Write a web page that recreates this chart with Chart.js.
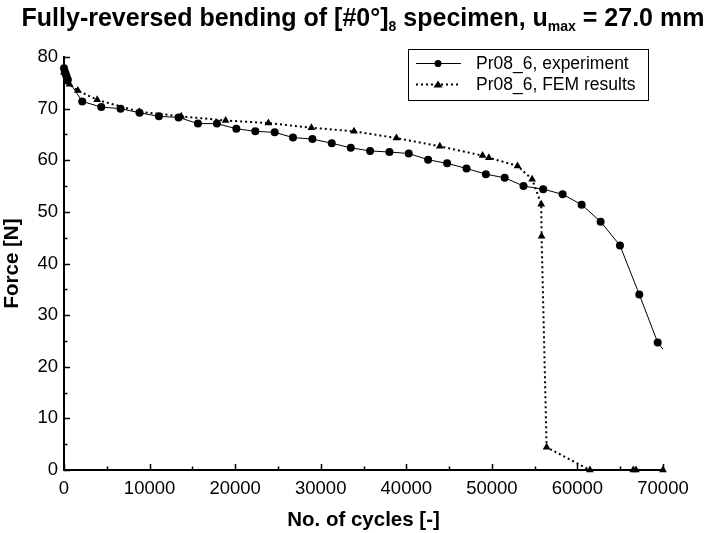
<!DOCTYPE html>
<html>
<head>
<meta charset="utf-8">
<script src="https://cdn.jsdelivr.net/npm/chart.js@4.4.1/dist/chart.umd.min.js"></script>
<style>
  body { margin: 0; background: #fff; }
  #wrap { position: relative; width: 706px; height: 533px; }
  #title {
    position: absolute; left: 0; top: 3px; width: 706px; padding-left: 20px; box-sizing: border-box;
    text-align: center; white-space: nowrap; line-height: 30px;
    font: bold 25px "Liberation Sans", Arial, sans-serif; color: #000;
  }
  #title sub { font-size: 14px; line-height: 0; vertical-align: -5px; }
</style>
</head>
<body>
<div id="wrap">
  <canvas id="fatigue" width="706" height="533"></canvas>
  <div id="title">Fully-reversed bending of [#0°]<sub>8</sub> specimen, u<sub>max</sub> = 27.0 mm</div>
</div>
<script>
// Pr08_6 specimen, measured vs. FEM
const expCycles = [0, 100, 200, 300, 450, 2130, 4350, 6610, 8830, 11090, 13390, 15650, 17870,
  20140, 22360, 24620, 26760, 29030, 31290, 33510, 35770, 38030, 40290, 42550, 44770, 47040,
  49300, 51500, 53700, 56000, 58270, 60490, 62710, 64970, 67230, 69380, 70000];
const expForce = [77.8, 77.2, 76.7, 76.2, 75.6, 71.4, 70.3, 70.0, 69.2, 68.5, 68.3, 67.1, 67.1,
  66.1, 65.6, 65.4, 64.4, 64.1, 63.3, 62.4, 61.8, 61.6, 61.3, 60.1, 59.4, 58.4,
  57.3, 56.6, 55.0, 54.4, 53.4, 51.4, 48.1, 43.5, 34.0, 24.7, 23.4];

const femCycles = [0, 300, 640, 1620, 3880, 8800, 13700, 18890, 23880, 28910, 33890, 38850,
  43920, 48910, 49650, 53000, 54710, 55770, 55810, 56400, 61460, 66530, 66840, 70000];
const femForce = [77.0, 75.8, 74.7, 73.5, 71.7, 69.4, 68.5, 67.7, 67.2, 66.3, 65.6, 64.3,
  62.7, 60.9, 60.5, 58.9, 56.3, 51.5, 45.3, 4.4, 0, 0, 0, 0];

const seriesLabels = ['Pr08_6, experiment', 'Pr08_6, FEM results'];

const toPoints = (xs, ys) => xs.map((x, i) => ({ x: x, y: ys[i] }));

// last experiment point is only where the line leaves the plot, no marker
const expRadius = expCycles.map((c, i) => i === expCycles.length - 1 ? 0 : 4);

const FONT = '"Liberation Sans", Arial, sans-serif';

// ticks pointing into the plot, with minor ticks between
const innerTicks = {
  id: 'innerTicks',
  afterDraw(chart) {
    const { ctx, chartArea, scales } = chart;
    ctx.save();
    ctx.strokeStyle = '#000';
    ctx.lineWidth = 1.5;
    ctx.beginPath();
    for (let v = 0; v <= 70000; v += 5000) {
      const px = Math.round(scales.x.getPixelForValue(v)) + 0.5;
      const len = v % 10000 === 0 ? 6 : 3.5;
      ctx.moveTo(px, chartArea.bottom);
      ctx.lineTo(px, chartArea.bottom - len);
    }
    for (let v = 0; v <= 80; v += 5) {
      const py = Math.round(scales.y.getPixelForValue(v)) + 0.5;
      const len = v % 10 === 0 ? 6 : 3.5;
      ctx.moveTo(chartArea.left, py);
      ctx.lineTo(chartArea.left + len, py);
    }
    ctx.stroke();
    ctx.restore();
  }
};

// boxed legend with a line sample and marker for each series
const boxLegend = {
  id: 'boxLegend',
  afterDraw(chart) {
    const ctx = chart.ctx;
    const x0 = 408.5, y0 = 49.5, w = 240, h = 51;
    ctx.save();
    ctx.fillStyle = '#fff';
    ctx.fillRect(x0, y0, w, h);
    ctx.strokeStyle = '#000';
    ctx.lineWidth = 1;
    ctx.strokeRect(x0, y0, w, h);
    chart.data.datasets.forEach((ds, i) => {
      const y = 63.5 + i * 21;
      ctx.strokeStyle = '#000';
      ctx.lineWidth = ds.borderWidth;
      ctx.setLineDash(ds.borderDash || []);
      ctx.beginPath();
      ctx.moveTo(416, y);
      ctx.lineTo(461, y);
      ctx.stroke();
      ctx.setLineDash([]);
      ctx.fillStyle = '#000';
      ctx.beginPath();
      if (ds.pointStyle === 'circle') {
        ctx.arc(438, y, 3.5, 0, Math.PI * 2);
      } else {
        ctx.moveTo(438, y - 4); ctx.lineTo(442.5, y + 3); ctx.lineTo(433.5, y + 3); ctx.closePath();
      }
      ctx.fill();
      ctx.font = '17.5px ' + FONT;
      ctx.textBaseline = 'middle';
      ctx.fillText(ds.label, 476, y + 1);
    });
    ctx.restore();
  }
};

const ctx = document.getElementById('fatigue').getContext('2d');

const chart = new Chart(ctx, {
  type: 'line',
  data: {
    datasets: [{
      label: seriesLabels[0],
      data: toPoints(expCycles, expForce),
      borderColor: '#000',
      backgroundColor: '#000',
      borderWidth: 1,
      pointStyle: 'circle',
      pointRadius: expRadius,
      pointBorderWidth: 0,
      tension: 0,
      clip: false
    }, {
      label: seriesLabels[1],
      data: toPoints(femCycles, femForce),
      borderColor: '#000',
      backgroundColor: '#000',
      borderWidth: 2,
      borderDash: [2, 3],
      pointStyle: 'triangle',
      pointRadius: 4.5,
      pointBorderWidth: 0,
      tension: 0,
      clip: false
    }]
  },
  options: {
    responsive: false,
    animation: false,
    devicePixelRatio: 1,
    layout: { padding: { left: 0, right: 43, top: 57, bottom: 0 } },
    plugins: {
      legend: { display: false },
      tooltip: { enabled: false }
    },
    scales: {
      x: {
        type: 'linear',
        min: 0,
        max: 70000,
        afterFit: (scale) => { scale.height = 63; },
        grid: { display: true, drawOnChartArea: false, drawTicks: false },
        border: { display: true, color: '#000', width: 2 },
        ticks: {
          stepSize: 10000,
          color: '#000',
          padding: 8,
          maxRotation: 0,
          font: { family: FONT, size: 18.5 },
          callback: (v) => String(v)
        },
        title: {
          display: true,
          text: 'No. of cycles [-]',
          color: '#000',
          font: { family: FONT, size: 20.5, weight: 'bold' },
          padding: { top: 0, bottom: 0 }
        }
      },
      y: {
        min: 0,
        max: 80,
        afterFit: (scale) => { scale.width = 64; },
        grid: { display: true, drawOnChartArea: false, drawTicks: false },
        border: { display: true, color: '#000', width: 2 },
        ticks: {
          stepSize: 10,
          color: '#000',
          padding: 6,
          font: { family: FONT, size: 18.5 }
        },
        title: {
          display: true,
          text: 'Force [N]',
          color: '#000',
          font: { family: FONT, size: 20.5, weight: 'bold' },
          padding: { top: 0, bottom: 0 }
        }
      }
    }
  },
  plugins: [innerTicks, boxLegend]
});
</script>
</body>
</html>
